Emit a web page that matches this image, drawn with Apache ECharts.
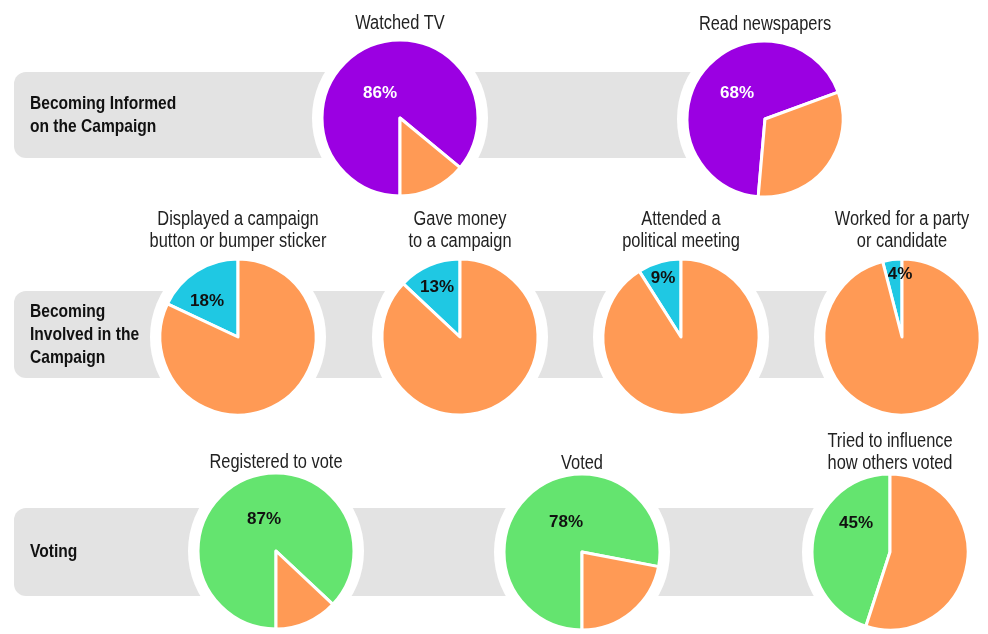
<!DOCTYPE html>
<html>
<head>
<meta charset="utf-8">
<title>Political participation</title>
<script src="https://cdn.jsdelivr.net/npm/echarts@6/dist/echarts.min.js"></script>
<style>
html, body { margin: 0; padding: 0; background: #fff; }
#main { width: 988px; height: 634px; }
</style>
</head>
<body>
<div id="main"></div>
<script>
// data ------------------------------------------------------------------
var rowNames = ['Becoming Informed\non the Campaign', 'Becoming\nInvolved in the\nCampaign', 'Voting'];
var pieTitles = [
    'Watched TV', 'Read newspapers',
    'Displayed a campaign\nbutton or bumper sticker', 'Gave money\nto a campaign',
    'Attended a\npolitical meeting', 'Worked for a party\nor candidate',
    'Registered to vote', 'Voted', 'Tried to influence\nhow others voted'
];
var pieRows = [0, 0, 1, 1, 1, 1, 2, 2, 2];
var pieValues = [86, 68, 18, 13, 9, 4, 87, 78, 45];

// layout / style --------------------------------------------------------
// no narrow font installed, so Liberation Sans is squeezed horizontally
var FONT = "'Liberation Sans', Arial, sans-serif";
var SQUEEZE = 0.82;
var mainColors = ['#9b00e2', '#1fc8e3', '#64e46f'];
var restColor = '#ff9a55';
var pctColors = ['#ffffff', '#111111', '#111111'];
var bandColor = '#e3e3e3';
var R = 78;
var bands = [
    {y: 72, h: 86, x2: 765, titleGap: 6},
    {y: 291, h: 87, x2: 902, titleGap: 7},
    {y: 508, h: 88, x2: 890, titleGap: 0}
];
var pieLayout = [
    {cx: 400, cy: 118, start: -90, cw: true, lab: [-20, -25]},
    {cx: 765, cy: 119, start: -95, cw: true, lab: [-28, -26]},
    {cx: 238, cy: 337, start: 90, cw: false, lab: [-31, -36]},
    {cx: 460, cy: 337, start: 90, cw: false, lab: [-23, -50]},
    {cx: 681, cy: 337, start: 90, cw: false, lab: [-18, -59]},
    {cx: 902, cy: 337, start: 90, cw: false, lab: [-2, -63]},
    {cx: 276, cy: 551, start: -90, cw: true, lab: [-12, -32]},
    {cx: 582, cy: 552, start: -90, cw: true, lab: [-16, -30]},
    {cx: 890, cy: 552, start: 90, cw: false, lab: [-34, -29]}
];

var myChart = echarts.init(document.getElementById('main'), null, {renderer: 'canvas'});

var graphics = [];
var series = [];

// grey bands with row labels
for (let i = 0; i < bands.length; i++) {
    let b = bands[i];
    graphics.push({
        type: 'rect', z: 0,
        shape: {x: 14, y: b.y, width: b.x2 - 14, height: b.h, r: [12, 0, 0, 12]},
        style: {fill: bandColor}
    });
    graphics.push({
        type: 'text', z: 5, x: 30, y: b.y + b.h / 2, scaleX: SQUEEZE,
        style: {
            text: rowNames[i], fill: '#111', align: 'left', verticalAlign: 'middle',
            font: 'bold 19px ' + FONT, lineHeight: 23
        }
    });
}

for (let i = 0; i < pieValues.length; i++) {
    let p = pieLayout[i];
    let row = pieRows[i];
    // white halo behind each pie
    graphics.push({
        type: 'circle', z: 1,
        shape: {cx: p.cx, cy: p.cy, r: R + 10},
        style: {fill: '#fff'}
    });
    // pie title
    graphics.push({
        type: 'text', z: 5, x: p.cx, y: p.cy - R - bands[row].titleGap, scaleX: SQUEEZE,
        style: {
            text: pieTitles[i], fill: '#222', align: 'center', verticalAlign: 'bottom',
            font: '20px ' + FONT, lineHeight: 22
        }
    });
    series.push({
        type: 'pie',
        z: 3,
        silent: true,
        animation: false,
        center: [p.cx, p.cy],
        radius: [0, R],
        startAngle: p.start,
        clockwise: p.cw,
        avoidLabelOverlap: false,
        itemStyle: {borderColor: '#fff', borderWidth: 3},
        labelLine: {show: false},
        data: [
            {
                value: pieValues[i], name: pieTitles[i],
                itemStyle: {color: mainColors[row]},
                label: {
                    show: true, position: 'center', offset: p.lab,
                    formatter: '{c}%', color: pctColors[row],
                    fontFamily: FONT, fontWeight: 'bold', fontSize: 17
                }
            },
            {
                value: 100 - pieValues[i], name: 'other',
                itemStyle: {color: restColor},
                label: {show: false}
            }
        ]
    });
}

var option = {
    backgroundColor: '#fff',
    graphic: {elements: graphics},
    series: series
};
myChart.setOption(option);
</script>
</body>
</html>
